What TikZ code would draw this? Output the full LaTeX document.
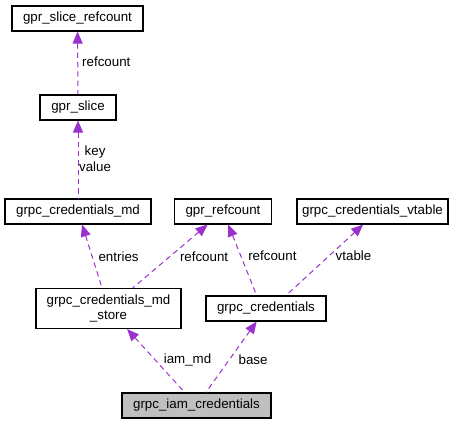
\documentclass[tikz,border=0pt]{standalone}
\usepackage{fontspec}
\setmainfont{Liberation Sans}
\usepackage{xcolor}
\usetikzlibrary{arrows.meta,positioning,calc}
\definecolor{edgepurple}{HTML}{9A32CD}
\definecolor{focusgrey}{HTML}{BFBFBF}

\begin{document}
\begin{tikzpicture}[
    x=0.75pt,y=-0.75pt,
    font=\fontsize{10}{11.5}\selectfont,
    box/.style={draw=black,line width=0.8pt,fill=white,inner sep=2pt,
        align=center,minimum height=18.75pt},
    link/.style={{Triangle[length=9pt,width=7.5pt]}-,line width=0.75pt,
        draw=edgepurple,dash pattern=on 4pt off 3pt},
    lab/.style={inner sep=0pt,anchor=west,align=center}
]
\useasboundingbox (0,0) rectangle (465,424);
\node[box,minimum width=98.25pt] (slicerc) at (77.5,18.5) {gpr\_slice\_refcount};
\node[box,minimum width=57pt] (slice) at (78,107.5) {gpr\_slice};
\node[box,minimum width=109.5pt] (credmd) at (78,211.5) {grpc\_credentials\_md};
\node[box,minimum width=72.75pt] (refcount) at (223,211.5) {gpr\_refcount};
\node[box,minimum width=113.25pt] (vtable) at (372.5,211.5) {grpc\_credentials\_vtable};
\node[box,minimum width=108.75pt,minimum height=30pt] (mdstore) at (108.5,308.5) {grpc\_credentials\_md\\\_store};
\node[box,minimum width=90pt] (cred) at (266,308.5) {grpc\_credentials};
\node[box,minimum width=111.75pt,fill=focusgrey] (iam) at (196.5,405.5) {grpc\_iam\_credentials};
\draw[link] (slicerc) -- node[lab,pos=0.48,xshift=3pt] {refcount} (slice);
\draw[link] (slice) -- node[lab,pos=0.49,xshift=0.5pt] {key\\value} (credmd);
\draw[link] (credmd) -- node[lab,pos=0.5,xshift=4.5pt] {entries} (mdstore);
\draw[link] (refcount) -- node[lab,pos=0.5,xshift=7pt] {refcount} (mdstore);
\draw[link] (refcount) -- node[lab,pos=0.44,xshift=5.3pt] {refcount} ([xshift=-7pt]cred.north);
\draw[link] ([xshift=-7pt]vtable.south) -- node[lab,pos=0.44,xshift=4.5pt] {vtable} ([xshift=15pt]cred.north);
\draw[link] (mdstore) -- node[lab,pos=0.49,xshift=6pt] {iam\_md} (iam);
\draw[link] (cred) -- node[lab,pos=0.54,xshift=6.7pt] {base} (iam);
\end{tikzpicture}
\end{document}
